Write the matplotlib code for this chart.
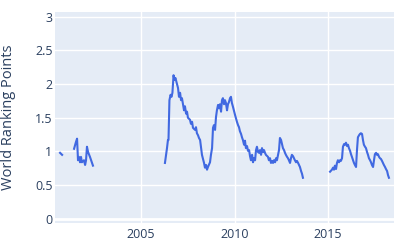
import matplotlib
matplotlib.use("Agg")
import matplotlib.pyplot as plt

plt.rcParams['font.family'] = ['Open Sans', 'DejaVu Sans']

# ranking points, one list pair per unbroken stretch
years_a = [2000.67, 2000.78]
points_a = [0.98, 0.95]

years_b = [2001.42, 2001.52, 2001.58, 2001.63, 2001.68, 2001.74, 2001.79, 2001.84,
           2001.95, 2002.01, 2002.06, 2002.11, 2002.17, 2002.27, 2002.43]
points_b = [1.04, 1.14, 1.19, 0.87, 0.92, 0.84, 0.92, 0.84,
            0.87, 0.80, 0.87, 1.07, 0.99, 0.92, 0.79]

years_c = [2006.28, 2006.34, 2006.39, 2006.44, 2006.47, 2006.52, 2006.58, 2006.63,
           2006.68, 2006.74, 2006.79, 2006.84, 2006.93, 2006.98, 2007.03, 2007.09,
           2007.14, 2007.19, 2007.25, 2007.30, 2007.35, 2007.41, 2007.46, 2007.51,
           2007.62, 2007.67, 2007.73, 2007.78, 2007.89, 2007.94, 2007.99, 2008.05,
           2008.10, 2008.16, 2008.26, 2008.37, 2008.42, 2008.48, 2008.53, 2008.58,
           2008.69, 2008.74, 2008.80, 2008.85, 2008.90, 2008.96, 2009.01, 2009.06,
           2009.12, 2009.17, 2009.22, 2009.28, 2009.33, 2009.38, 2009.44, 2009.49,
           2009.54, 2009.60, 2009.65, 2009.70, 2009.76, 2009.81, 2009.86, 2009.92,
           2010.03, 2010.13, 2010.19, 2010.24, 2010.29, 2010.35, 2010.40, 2010.45,
           2010.51, 2010.56, 2010.61, 2010.67, 2010.72, 2010.78, 2010.83, 2010.88,
           2010.94, 2010.99, 2011.04, 2011.10, 2011.15, 2011.20, 2011.26, 2011.31,
           2011.36, 2011.42, 2011.47, 2011.52, 2011.58, 2011.63, 2011.68, 2011.79,
           2011.84, 2011.90, 2011.95, 2012.01, 2012.06, 2012.11, 2012.17, 2012.22,
           2012.27, 2012.33, 2012.38, 2012.43, 2012.49, 2012.54, 2012.59, 2012.65,
           2012.70, 2012.75, 2012.81, 2012.86, 2012.91, 2012.97, 2013.02, 2013.07,
           2013.13, 2013.18, 2013.23, 2013.29, 2013.34, 2013.40, 2013.45, 2013.50,
           2013.56, 2013.61, 2013.66]
points_c = [0.83, 0.95, 1.05, 1.17, 1.17, 1.76, 1.84, 1.81,
            1.87, 2.13, 2.06, 2.09, 1.99, 1.94, 1.81, 1.87,
            1.76, 1.79, 1.69, 1.61, 1.67, 1.56, 1.59, 1.50,
            1.47, 1.41, 1.44, 1.35, 1.32, 1.36, 1.27, 1.24,
            1.20, 1.17, 0.95, 0.83, 0.76, 0.80, 0.73, 0.77,
            0.84, 0.95, 1.05, 1.35, 1.39, 1.32, 1.51, 1.61,
            1.69, 1.64, 1.70, 1.59, 1.76, 1.79, 1.70, 1.76,
            1.72, 1.61, 1.70, 1.73, 1.79, 1.81, 1.72, 1.66,
            1.54, 1.44, 1.39, 1.36, 1.30, 1.26, 1.21, 1.17,
            1.10, 1.16, 1.05, 1.08, 1.01, 1.02, 0.93, 0.87,
            0.95, 0.84, 0.90, 0.87, 1.02, 1.07, 0.99, 0.98,
            1.02, 0.95, 1.05, 0.99, 1.02, 0.98, 0.95, 0.92,
            0.87, 0.90, 0.83, 0.86, 0.83, 0.87, 0.84, 0.90,
            0.87, 0.95, 1.02, 1.20, 1.17, 1.11, 1.05, 1.02,
            0.98, 0.95, 0.92, 0.90, 0.87, 0.83, 0.90, 0.95,
            0.93, 0.90, 0.87, 0.84, 0.86, 0.83, 0.80, 0.77,
            0.71, 0.67, 0.61]

years_d = [2015.11, 2015.21, 2015.27, 2015.32, 2015.37, 2015.43, 2015.48, 2015.53,
           2015.59, 2015.64, 2015.69, 2015.75, 2015.80, 2015.86, 2015.91, 2015.96,
           2016.02, 2016.07, 2016.12, 2016.18, 2016.23, 2016.28, 2016.34, 2016.39,
           2016.44, 2016.50, 2016.55, 2016.60, 2016.66, 2016.71, 2016.76, 2016.82,
           2016.87, 2016.92, 2016.98, 2017.03, 2017.09, 2017.14, 2017.19, 2017.25,
           2017.30, 2017.35, 2017.41, 2017.46, 2017.51, 2017.57, 2017.62, 2017.67,
           2017.73, 2017.78, 2017.83, 2017.89, 2017.94, 2017.99, 2018.05, 2018.10,
           2018.16, 2018.21, 2018.26]
points_d = [0.70, 0.73, 0.76, 0.73, 0.79, 0.74, 0.83, 0.87,
            0.84, 0.87, 0.86, 0.90, 1.07, 1.11, 1.10, 1.13,
            1.08, 1.10, 1.05, 1.01, 0.96, 0.92, 0.87, 0.83,
            0.80, 0.77, 1.02, 1.21, 1.24, 1.26, 1.27, 1.26,
            1.17, 1.10, 1.07, 1.05, 0.99, 0.95, 0.90, 0.87,
            0.84, 0.80, 0.77, 0.87, 0.96, 0.98, 0.95, 0.96,
            0.92, 0.90, 0.89, 0.86, 0.83, 0.80, 0.77, 0.74,
            0.71, 0.65, 0.61]

x_ticks = [2005, 2010, 2015]
y_ticks = [0, 0.5, 1, 1.5, 2, 2.5, 3]
y_tick_labels = ["0", "0.5", "1", "1.5", "2", "2.5", "3"]

text_col = '#2a3f5f'
line_col = '#4169E1'

fig = plt.figure(figsize=(4, 2.5), dpi=100)
ax = fig.add_axes([0.1375, 0.108, 0.8475, 0.844])
ax.set_facecolor('#E5ECF6')

for xs, ys in [(years_a, points_a), (years_b, points_b),
               (years_c, points_c), (years_d, points_d)]:
    ax.plot(xs, ys, color=line_col, lw=1.5, solid_joinstyle='round', zorder=3)

ax.set_xlim(2000.40, 2018.53)
ax.set_ylim(-0.06, 3.067)

ax.set_xticks(x_ticks)
ax.set_yticks(y_ticks)
ax.set_yticklabels(y_tick_labels)
ax.grid(True, color='white', lw=1, zorder=0)
ax.set_axisbelow(True)
ax.axhline(0, color='white', lw=2, zorder=1)

for s in ax.spines.values():
    s.set_visible(False)
ax.tick_params(axis='both', length=0, labelcolor=text_col, labelsize=9)
ax.tick_params(axis='x', pad=3.6)
ax.tick_params(axis='y', pad=1.8)

fig.text(0.021, 1 - 117 / 250, 'World Ranking Points', rotation=90,
         ha='center', va='center', color=text_col, fontsize=10.5)

fig.savefig('out.png', dpi=100)
